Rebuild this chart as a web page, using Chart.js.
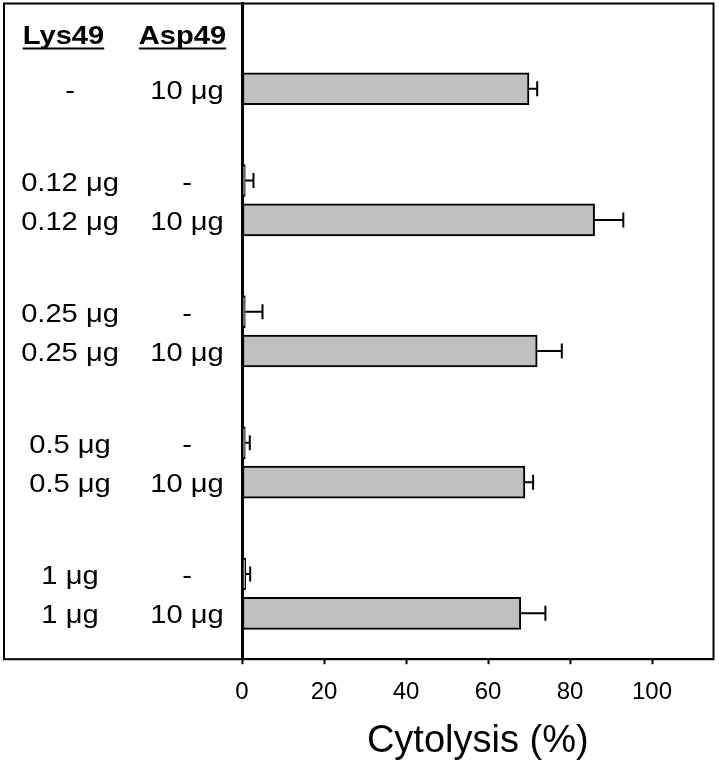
<!DOCTYPE html>
<html>
<head>
<meta charset="utf-8">
<script src="https://cdn.jsdelivr.net/npm/chart.js@4"></script>
<style>
  html, body { margin: 0; padding: 0; background: #fff; }
  #wrap { width: 719px; height: 761px; }
</style>
</head>
<body>
<div id="wrap"><canvas id="cyto"></canvas></div>
<script>
// one entry per bar, top to bottom
const rows = ['Asp49', 'Lys0.12', 'Lys0.12+Asp', 'Lys0.25', 'Lys0.25+Asp', 'Lys0.5', 'Lys0.5+Asp', 'Lys1', 'Lys1+Asp'];
const lys49 = ['-', '0.12 μg', '0.12 μg', '0.25 μg', '0.25 μg', '0.5 μg', '0.5 μg', '1 μg', '1 μg'];
const asp49 = ['10 μg', '-', '10 μg', '-', '10 μg', '-', '10 μg', '-', '10 μg'];
const cytolysis = [70, 0.8, 86, 0.8, 72, 0.8, 69, 0.9, 68];
const errors = [2, 2, 7, 4.2, 6, 1.1, 2, 1.1, 6];
const xTicks = [0, 20, 40, 60, 80, 100];

// the y axis is a category axis, blanks are the gaps between groups
const categories = [
  '', '', '', '', '', '', rows[0],
  '', '', '', '', '', '', rows[1], '', '', rows[2],
  '', '', '', '', '', '', rows[3], '', '', rows[4],
  '', '', '', '', '', '', rows[5], '', '', rows[6],
  '', '', '', '', '', '', rows[7], '', '', rows[8],
  '', '', ''
];

const FONT = "'Liberation Sans', Arial, sans-serif";

const errorBars = {
  id: 'errorBars',
  afterDatasetsDraw(chart) {
    const ctx = chart.ctx;
    const x = chart.scales.x;
    const meta = chart.getDatasetMeta(0);
    ctx.save();
    ctx.strokeStyle = '#000';
    ctx.lineWidth = 2;
    meta.data.forEach((bar, i) => {
      const xEnd = x.getPixelForValue(cytolysis[i] + errors[i]);
      ctx.beginPath();
      ctx.moveTo(bar.x, bar.y);
      ctx.lineTo(xEnd, bar.y);
      ctx.moveTo(xEnd, bar.y - 7.5);
      ctx.lineTo(xEnd, bar.y + 7.5);
      ctx.stroke();
    });
    ctx.restore();
  }
};

// text in the left part of the frame + the frame itself
const sideLabels = {
  id: 'sideLabels',
  afterDraw(chart) {
    const ctx = chart.ctx;
    const area = chart.chartArea;
    const meta = chart.getDatasetMeta(0);
    const stretch = 1.12;

    function text(str, cx, y) {
      ctx.save();
      ctx.translate(cx, y);
      ctx.scale(stretch, 1);
      ctx.fillText(str, 0, 0);
      ctx.restore();
    }

    ctx.save();
    ctx.fillStyle = '#000';
    ctx.textAlign = 'center';
    ctx.textBaseline = 'alphabetic';

    // headers
    ctx.font = 'bold 26px ' + FONT;
    const headY = area.top + 40;
    [['Lys49', 63.5], ['Asp49', 182.5]].forEach(([t, cx]) => {
      text(t, cx, headY);
      const w = ctx.measureText(t).width * stretch;
      ctx.fillRect(cx - w / 2, headY + 4, w, 2);
    });

    ctx.font = '26px ' + FONT;
    meta.data.forEach((bar, i) => {
      text(lys49[i], 70, bar.y + 10);
      text(asp49[i], 187, bar.y + 10);
    });

    ctx.strokeStyle = '#000';
    ctx.lineWidth = 2;
    ctx.strokeRect(4, area.top, area.right - 4, area.bottom - area.top);
    ctx.restore();
  }
};

new Chart(document.getElementById('cyto'), {
  type: 'bar',
  data: {
    labels: categories,
    datasets: [{
      data: rows.map((r, i) => ({ y: r, x: cytolysis[i] })),
      backgroundColor: asp49.map(a => a === '-' ? '#ffffff' : '#c0c0c0'),
      borderColor: '#000',
      borderWidth: 2,
      borderSkipped: false,
      barThickness: 32
    }]
  },
  options: {
    indexAxis: 'y',
    responsive: true,
    maintainAspectRatio: false,
    animation: false,
    grouped: false,
    layout: {
      padding: { left: 0, right: 5.5, top: 3.5, bottom: 0 }
    },
    plugins: {
      legend: { display: false },
      tooltip: { enabled: false }
    },
    scales: {
      x: {
        min: 0,
        max: 115,
        afterBuildTicks: scale => { scale.ticks = xTicks.map(v => ({ value: v })); },
        grid: {
          drawOnChartArea: false,
          drawTicks: true,
          tickLength: 5,
          tickColor: '#000',
          tickWidth: 2
        },
        border: { color: '#000', width: 2 },
        ticks: {
          color: '#000',
          padding: 14,
          maxRotation: 0,
          font: { family: FONT, size: 24 }
        },
        title: {
          display: true,
          text: 'Cytolysis (%)',
          color: '#000',
          padding: { top: 2, bottom: 0 },
          font: { family: FONT, size: 38, lineHeight: 1 }
        }
      },
      y: {
        afterFit: scale => { scale.width = 242; },
        grid: { display: false },
        border: { color: '#000', width: 3 },
        ticks: { display: false }
      }
    }
  },
  plugins: [errorBars, sideLabels]
});
</script>
</body>
</html>
